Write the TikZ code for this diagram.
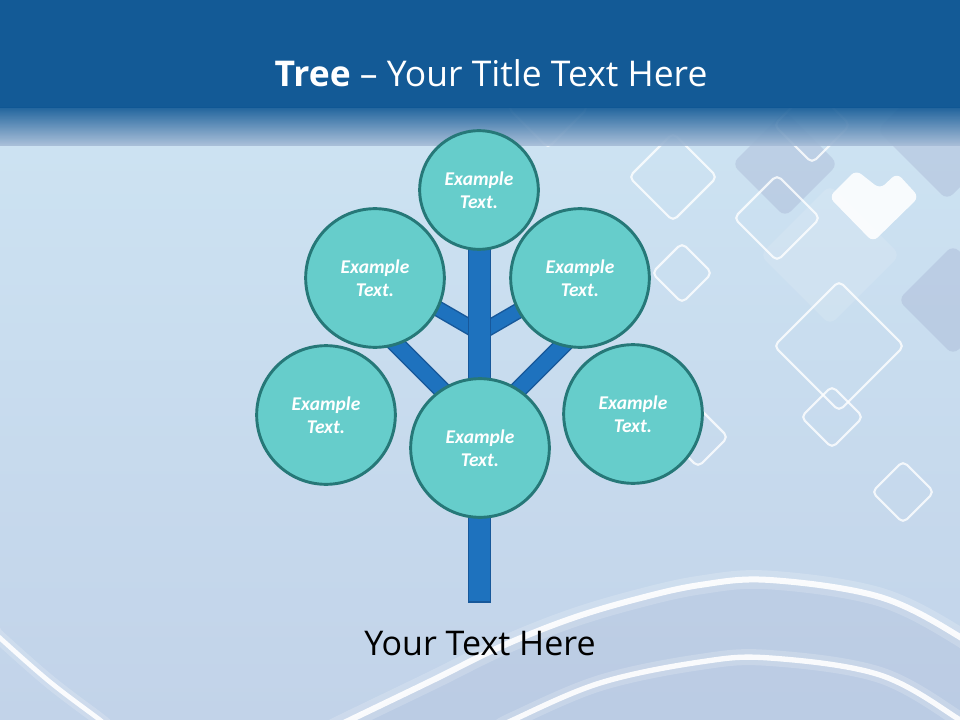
\documentclass[tikz,border=0pt]{standalone}
\usepackage{fontspec}
\setmainfont{Open Sans}
\newfontfamily\leaffont{Carlito}
\usetikzlibrary{calc}
\definecolor{barblue}{HTML}{135A96}
\definecolor{barlight}{HTML}{A9BED8}
\definecolor{bgtop}{HTML}{CFE6F4}
\definecolor{bgbot}{HTML}{C2D3E9}
\definecolor{leaffill}{HTML}{66CDCB}
\definecolor{leafdraw}{HTML}{267878}
\definecolor{trunkfill}{HTML}{1E72BE}
\definecolor{trunkdraw}{HTML}{17589A}
\definecolor{graydia}{HTML}{A9B8D6}
\newcommand\outdia[3]{\draw[diaout] ({#1-#3},#2) -- (#1,{#2-#3}) -- ({#1+#3},#2) -- (#1,{#2+#3}) -- cycle;}
\newcommand\filldia[3]{\fill[diafill] ({#1-#3},#2) -- (#1,{#2-#3}) -- ({#1+#3},#2) -- (#1,{#2+#3}) -- cycle;}
\begin{document}
\begin{tikzpicture}[x=0.75pt,y=-0.75pt,
  leaf/.style={circle, draw=leafdraw, line width=2.2pt, fill=leaffill, text=white,
    font=\leaffont\bfseries\itshape\fontsize{14.6}{17.2}\selectfont, align=center, inner sep=0pt},
  limb/.style={draw=trunkdraw, double=trunkfill, line width=1.1pt},
  trunkbox/.style={draw=trunkdraw, fill=trunkfill, line width=1.1pt},
  diaout/.style={draw=white, line width=1.6pt, rounded corners=4pt, opacity=0.8},
  diafill/.style={fill=graydia, rounded corners=6pt, opacity=0.45},
  wave/.style={draw=white, line cap=round, smooth, tension=0.6}]
\useasboundingbox (0,0) rectangle (960,720);
% background
\shade[top color=bgtop, bottom color=bgbot] (0,0) rectangle (960,720);
\foreach \i in {1,...,24}{
  \fill[white, opacity=0.016] (300,190) ellipse ({12*\i} and {9*\i});
}
% filled diamonds
\filldia{785}{164}{53}
\filldia{947}{130}{70}
\filldia{953}{300}{55}
\fill[white, opacity=0.12, rounded corners=6pt] (760,255) -- (830,185) -- (900,255) -- (830,325) -- cycle;
\fill[white, opacity=0.88, rounded corners=5pt] (829,197) -- (856,170) -- (880,189) -- (897,173) -- (919,197) -- (873,242) -- cycle;
% outline diamonds
\outdia{673}{177}{44}
\outdia{777}{218}{43}
\outdia{682}{273}{30}
\outdia{839}{346}{65}
\outdia{832}{417}{31}
\outdia{903}{492}{31}
\outdia{698}{437}{30}
\outdia{548}{108}{40}
\outdia{812}{125}{38}
% waves
\fill[graydia, opacity=0.25] plot[smooth, tension=0.6] coordinates {(330,730) (350,720) (433,680) (500,647) (567,620) (633,600) (700,585) (770,580) (880,597) (960,637) (985,660)} -- (985,730) -- cycle;
\draw[wave, line width=14pt, opacity=0.18] plot coordinates {(330,730) (350,720) (433,680) (500,647) (567,620) (633,600) (700,585) (770,580) (880,597) (960,637) (985,660)};
\draw[wave, line width=4.5pt, opacity=0.9] plot coordinates {(330,730) (350,720) (433,680) (500,647) (567,620) (633,600) (700,585) (770,580) (880,597) (960,637) (985,660)};
\draw[wave, line width=12pt, opacity=0.18] plot coordinates {(500,728) (513,720) (600,683) (700,662) (770,658) (880,675) (960,720) (970,730)};
\draw[wave, line width=4pt, opacity=0.9] plot coordinates {(500,728) (513,720) (600,683) (700,662) (770,658) (880,675) (960,720) (970,730)};
\draw[wave, line width=10pt, opacity=0.18] plot coordinates {(-5,632) (0,638) (50,682) (100,720) (106,726)};
\draw[wave, line width=3.5pt, opacity=0.9] plot coordinates {(-5,632) (0,638) (50,682) (100,720) (106,726)};
% title bar
\fill[barblue] (0,0) rectangle (960,108);
\shade[top color=barblue, bottom color=barlight, opacity=0.9] (0,108) rectangle (960,146);
\node[text=white, font=\fontsize{26.6}{30}\selectfont, anchor=base] (title) at (491,87) {\textbf{Tree} – Your Title Text Here};
% tree
\coordinate (ctop) at (479,190);
\coordinate (cul) at (375,278);
\coordinate (cur) at (580,278);
\coordinate (cll) at (326,415);
\coordinate (clr) at (633,414);
\coordinate (cbot) at (480,448);
\coordinate (root) at (480,602);
\coordinate (j1) at (480,333);
\coordinate (j2) at (480,428);
\coordinate (e1) at (385,278);
\coordinate (e2) at (575,278);
\coordinate (e3) at (385,333);
\coordinate (e4) at (575,333);
\draw[limb, double distance=9.8pt] (j1) -- (e1);
\draw[limb, double distance=9.8pt] (j1) -- (e2);
\draw[limb, double distance=11.3pt] (j2) -- (e3);
\draw[limb, double distance=11.3pt] (j2) -- (e4);
\draw[trunkbox] ($(ctop)+(-10.5,0)$) rectangle ($(root)+(10.5,0)$);
\node[leaf, minimum size=89pt] (ntop) at (ctop) {Example\\Text.};
\node[leaf, minimum size=104pt] (nul) at (cul) {Example\\Text.};
\node[leaf, minimum size=104pt] (nur) at (cur) {Example\\Text.};
\node[leaf, minimum size=104pt] (nll) at (cll) {Example\\Text.};
\node[leaf, minimum size=104pt] (nlr) at (clr) {Example\\Text.};
\node[leaf, minimum size=104pt] (nbot) at (cbot) {Example\\Text.};
\node[font=\fontsize{25.5}{30}\selectfont, anchor=base] (caption) at (480,655) {Your Text Here};
\end{tikzpicture}
\end{document}
